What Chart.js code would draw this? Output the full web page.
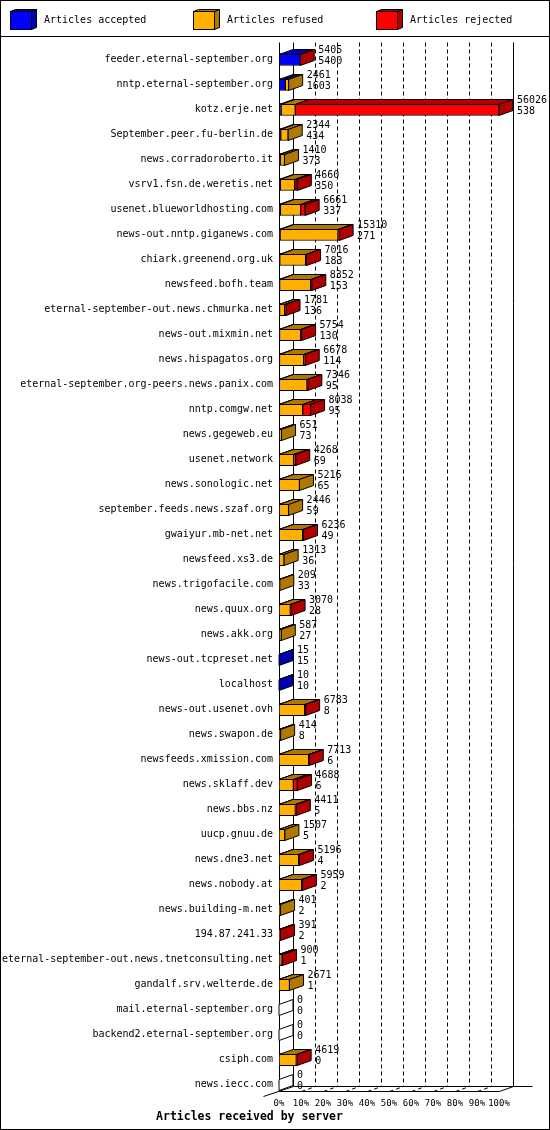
<!DOCTYPE html>
<html>
<head>
<meta charset="utf-8">
<title>Articles received by server</title>
<script src="https://cdn.jsdelivr.net/npm/chart.js@4.4.1/dist/chart.umd.min.js"></script>
<style>
  html, body { margin: 0; padding: 0; background: #fff; }
  canvas { display: block; }
</style>
</head>
<body>
<canvas id="chart" width="550" height="1130"></canvas>
<script>
// Data (refused / rejected split)
const servers = [
  'feeder.eternal-september.org', 'nntp.eternal-september.org', 'kotz.erje.net',
  'September.peer.fu-berlin.de', 'news.corradoroberto.it', 'vsrv1.fsn.de.weretis.net',
  'usenet.blueworldhosting.com', 'news-out.nntp.giganews.com', 'chiark.greenend.org.uk',
  'newsfeed.bofh.team', 'eternal-september-out.news.chmurka.net', 'news-out.mixmin.net',
  'news.hispagatos.org', 'eternal-september.org-peers.news.panix.com', 'nntp.comgw.net',
  'news.gegeweb.eu', 'usenet.network', 'news.sonologic.net',
  'september.feeds.news.szaf.org', 'gwaiyur.mb-net.net', 'newsfeed.xs3.de',
  'news.trigofacile.com', 'news.quux.org', 'news.akk.org',
  'news-out.tcpreset.net', 'localhost', 'news-out.usenet.ovh',
  'news.swapon.de', 'newsfeeds.xmission.com', 'news.sklaff.dev',
  'news.bbs.nz', 'uucp.gnuu.de', 'news.dne3.net',
  'news.nobody.at', 'news.building-m.net', '194.87.241.33',
  'eternal-september-out.news.tnetconsulting.net', 'gandalf.srv.welterde.de', 'mail.eternal-september.org',
  'backend2.eternal-september.org', 'csiph.com', 'news.iecc.com'
];
const offered = [5405, 2461, 56026, 2344, 1410, 4660, 6661, 15310, 7016, 8352, 1781, 5754, 6678, 7346,
  8038, 651, 4268, 5216, 2446, 6236, 1313, 209, 3070, 587, 15, 10, 6783, 414, 7713, 4688, 4411, 1507,
  5196, 5959, 401, 391, 900, 2671, 0, 0, 4619, 0];
const accepted = [5400, 1603, 538, 434, 373, 350, 337, 271, 183, 153, 136, 130, 114, 95, 95, 73, 69, 65,
  59, 49, 36, 33, 28, 27, 15, 10, 8, 8, 6, 6, 5, 5, 4, 2, 2, 2, 1, 1, 0, 0, 0, 0];
const refused = [0, 858, 3610, 1910, 1037, 3650, 5180, 14750, 6600, 7920, 1300, 5390, 6164, 7035, 5935,
  578, 3670, 5151, 2387, 5981, 1277, 176, 2862, 560, 0, 0, 6535, 406, 7557, 3650, 4156, 1502, 5002, 5767,
  399, 0, 560, 2670, 0, 0, 4410, 0];
const rejected = [5, 0, 51878, 0, 0, 660, 1144, 289, 233, 279, 345, 234, 400, 216, 2008, 0, 529, 0, 0,
  206, 0, 0, 180, 0, 0, 0, 240, 0, 150, 1032, 250, 0, 190, 190, 0, 389, 339, 0, 0, 0, 209, 0];
const tickLabels = ['0%', '10%', '20%', '30%', '40%', '50%', '60%', '70%', '80%', '90%', '100%'];
const seriesNames = ['Articles accepted', 'Articles refused', 'Articles rejected'];

// Front face colours and the darker top / side faces
const FRONT = ['#0000ff', '#ffb000', '#ff0000'];
const SHADE = ['#0000b0', '#b07800', '#b00000'];
const DX = 14;      // depth of the boxes
const DY = -5;
const BAR_H = 12;
const MONO = '"DejaVu Sans Mono", "Liberation Mono", monospace';

function line(ctx, x1, y1, x2, y2) {
  ctx.beginPath();
  ctx.moveTo(x1, y1);
  ctx.lineTo(x2, y2);
  ctx.stroke();
}

function poly(ctx, pts, fill) {
  ctx.beginPath();
  pts.forEach((p, i) => i ? ctx.lineTo(p[0], p[1]) : ctx.moveTo(p[0], p[1]));
  ctx.closePath();
  ctx.fillStyle = fill;
  ctx.fill();
  ctx.stroke();
}

const snap = (v) => Math.round(v) + 0.5;

const box3d = {
  id: 'box3d',
  beforeDatasetsDraw(chart) {
    const ctx = chart.ctx;
    const xs = chart.scales.x;
    const ys = chart.scales.y;
    const xl = snap(xs.getPixelForValue(xs.min));
    const xr = snap(xs.getPixelForValue(xs.max));
    const floorY = snap(ys.getPixelForValue(servers.length - 1) + BAR_H / 2);
    const topY = snap(chart.chartArea.top + DY);

    ctx.save();
    ctx.strokeStyle = '#000';
    ctx.lineWidth = 1;

    // grid on back wall and floor
    ctx.setLineDash([4, 3]);
    xs.ticks.forEach((t, i) => {
      if (i === 0 || i === xs.ticks.length - 1) return;
      const xt = snap(xs.getPixelForValue(t.value));
      line(ctx, xt + DX, topY, xt + DX, floorY + DY);
      line(ctx, xt, floorY, xt + DX, floorY + DY);
    });
    ctx.setLineDash([]);

    // walls and floor
    line(ctx, xl, topY, xl, floorY);
    line(ctx, xl + DX, topY, xl + DX, floorY + DY);
    line(ctx, xr + DX, topY, xr + DX, floorY + DY);
    line(ctx, xl, floorY, xr, floorY);
    line(ctx, xl + DX, floorY + DY, xr + DX + 19, floorY + DY);
    line(ctx, xl - DX - 2, floorY - DY, xl + DX, floorY + DY);
    line(ctx, xr, floorY, xr + DX, floorY + DY);
    ctx.restore();
  },
  afterDatasetsDraw(chart) {
    const ctx = chart.ctx;
    const xs = chart.scales.x;
    const ys = chart.scales.y;
    const metas = chart.data.datasets.map((d, k) => chart.getDatasetMeta(k));
    ctx.save();
    ctx.lineWidth = 1;
    ctx.strokeStyle = '#000';
    servers.forEach((name, row) => {
      const yc = ys.getPixelForValue(row);
      const top = snap(yc - BAR_H / 2);
      const bottom = snap(yc + BAR_H / 2) - 1;
      let last = -1;
      metas.forEach((m, k) => {
        const v = chart.data.datasets[k].data[row];
        if (!(v > 0)) return;
        const el = m.data[row];
        const x0 = Math.min(el.base, el.x);
        const x1 = Math.max(el.base, el.x);
        poly(ctx, [[x0, top], [x1, top], [x1 + DX, top + DY], [x0 + DX, top + DY]], SHADE[k]);
        last = k;
      });
      let xEnd = xs.getPixelForValue(0);
      let fill = '#fff';
      if (last >= 0) {
        xEnd = metas[last].data[row].x;
        fill = SHADE[last];
      }
      poly(ctx, [[xEnd, top], [xEnd + DX, top + DY], [xEnd + DX, bottom + DY], [xEnd, bottom]], fill);

      ctx.fillStyle = '#000';
      ctx.font = '10px ' + MONO;
      ctx.textBaseline = 'middle';
      ctx.textAlign = 'left';
      ctx.fillText(String(offered[row]), xEnd + DX + 4, yc - 9);
      ctx.fillText(String(accepted[row]), xEnd + DX + 4, yc + 2);
    });
    ctx.restore();
  },
  afterDraw(chart) {
    const ctx = chart.ctx;
    ctx.save();
    ctx.lineWidth = 1;
    ctx.strokeStyle = '#000';

    // legend with small 3D boxes
    const legendX = [10, 193, 376];
    chart.data.datasets.forEach((ds, k) => {
      const x = legendX[k] + 0.5, y = 11.5, w = 21, h = 18, dx = 5, dy = -2;
      ctx.fillStyle = FRONT[k];
      ctx.fillRect(x, y, w, h);
      ctx.strokeRect(x, y, w, h);
      poly(ctx, [[x, y], [x + w, y], [x + w + dx, y + dy], [x + dx, y + dy]], SHADE[k]);
      poly(ctx, [[x + w, y], [x + w + dx, y + dy], [x + w + dx, y + h + dy], [x + w, y + h]], SHADE[k]);
      ctx.fillStyle = '#000';
      ctx.font = '10px ' + MONO;
      ctx.textBaseline = 'middle';
      ctx.fillText(ds.label, legendX[k] + 34, y + h / 2);
    });

    line(ctx, 0, 36.5, chart.width, 36.5);
    ctx.strokeRect(0.5, 0.5, chart.width - 1, chart.height - 1);
    ctx.restore();
  }
};

new Chart(document.getElementById('chart'), {
  type: 'bar',
  data: {
    labels: servers,
    datasets: [accepted, refused, rejected].map((vals, k) => ({
      label: seriesNames[k],
      data: vals,
      backgroundColor: FRONT[k],
      borderColor: '#000',
      borderWidth: (c) => (c.raw > 0 ? 1 : 0),
      borderSkipped: false,
      barThickness: BAR_H
    }))
  },
  options: {
    indexAxis: 'y',
    responsive: false,
    animation: false,
    layout: { padding: { top: 47, right: 51, bottom: 0, left: 0 } },
    plugins: {
      legend: { display: false },
      tooltip: { enabled: false },
      title: {
        display: true,
        position: 'bottom',
        text: 'Articles received by server',
        color: '#000',
        font: { family: MONO, size: 11.5, weight: 'bold' },
        padding: { top: 1, bottom: 6 }
      }
    },
    scales: {
      x: {
        stacked: true,
        min: 0,
        max: Math.max(...offered),
        afterBuildTicks: (s) => {
          s.ticks = tickLabels.map((_, i) => ({ value: s.max * i / (tickLabels.length - 1) }));
        },
        afterFit: (s) => { s.height = 12; },
        grid: { display: false, drawTicks: false },
        border: { display: false },
        ticks: {
          autoSkip: false,
          maxRotation: 0,
          padding: 1,
          color: '#000',
          font: { family: MONO, size: 9 },
          callback: (v, i) => tickLabels[i]
        }
      },
      y: {
        stacked: true,
        afterFit: (s) => { s.width = 279; },
        grid: { display: false, drawTicks: false },
        border: { display: false },
        ticks: {
          autoSkip: false,
          padding: 6,
          color: '#000',
          font: { family: MONO, size: 10 }
        }
      }
    }
  },
  plugins: [box3d]
});
</script>
</body>
</html>
